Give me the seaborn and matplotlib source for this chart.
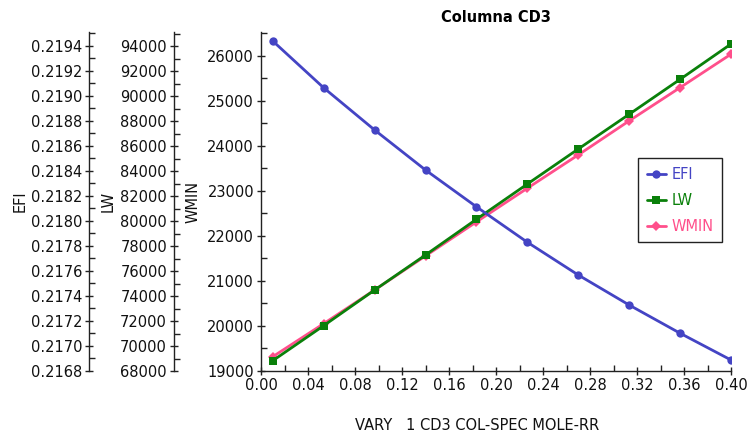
import matplotlib
matplotlib.use("Agg")
import matplotlib.pyplot as plt
import pandas as pd
import seaborn as sns
from matplotlib.ticker import MultipleLocator, FormatStrFormatter

# Sensitivity results for column CD3: reflux ratio sweep
rr = [0.01, 0.0533, 0.0967, 0.14, 0.1833, 0.2267, 0.27, 0.3133, 0.3567, 0.40]
efi = [0.21944, 0.219066, 0.218728, 0.218408, 0.218114,
       0.21783, 0.217568, 0.217328, 0.217102, 0.216888]
lw = [68824, 71624, 74480, 77280, 80136, 82960, 85760, 88536, 91336, 94160]
wmin = [19318, 20051, 20800, 21556, 22311, 23060, 23800, 24556, 25296, 26038]

series_names = ["EFI", "LW", "WMIN"]
colors = {"EFI": "#4444C4", "LW": "#0A800A", "WMIN": "#FF4F8B"}
markers = {"EFI": "o", "LW": "s", "WMIN": "D"}
msizes = {"EFI": 6, "LW": 5.5, "WMIN": 5}

df = pd.DataFrame({"RR": rr, "EFI": efi, "LW": lw, "WMIN": wmin})

sns.set_theme(style="white")
plt.rcParams["font.family"] = ["DejaVu Sans"]
plt.rcParams["font.size"] = 10.5

W, H = 749, 438
fig = plt.figure(figsize=(W / 100, H / 100), dpi=100)
left, right, top, bottom = 261, 731, 32, 371
ax = fig.add_axes([left / W, 1 - bottom / H, (right - left) / W, (bottom - top) / H])
ax_lw = ax.twinx()
ax_efi = ax.twinx()

axis_w = right - left
for a, off in ((ax_lw, 87), (ax_efi, 172)):
    a.yaxis.tick_left()
    a.yaxis.set_label_position("left")
    a.spines["left"].set_position(("axes", -off / axis_w))
    for s in ("right", "top", "bottom"):
        a.spines[s].set_visible(False)
    a.grid(False)

for s in ("right", "top"):
    ax.spines[s].set_visible(False)
ax.grid(False)

targets = {"EFI": ax_efi, "LW": ax_lw, "WMIN": ax}
for name in series_names:
    sns.lineplot(data=df, x="RR", y=name, ax=targets[name], color=colors[name],
                 marker=markers[name], markersize=msizes[name], markeredgewidth=0,
                 linewidth=2, legend=False)

# axis ranges and ticks
ax.set_xlim(0, 0.40)
ax.set_ylim(19000, 26530)
ax.xaxis.set_major_locator(MultipleLocator(0.04))
ax.xaxis.set_minor_locator(MultipleLocator(0.02))
ax.xaxis.set_major_formatter(FormatStrFormatter("%.2f"))
ax.yaxis.set_major_locator(MultipleLocator(1000))
ax.yaxis.set_minor_locator(MultipleLocator(500))

ax_lw.set_ylim(68000, 95120)
ax_lw.yaxis.set_major_locator(MultipleLocator(2000))
ax_lw.yaxis.set_minor_locator(MultipleLocator(1000))

ax_efi.set_ylim(0.2168, 0.219512)
ax_efi.yaxis.set_major_locator(MultipleLocator(0.0002))
ax_efi.yaxis.set_minor_locator(MultipleLocator(0.0001))
ax_efi.yaxis.set_major_formatter(FormatStrFormatter("%.4f"))

for a in (ax, ax_lw, ax_efi):
    for s in a.spines.values():
        s.set_color("#222222")
        s.set_linewidth(1.0)
    a.tick_params(which="major", direction="inout", length=6, width=1,
                  color="#222222", labelsize=10.5, labelcolor="#111111", pad=2)
    a.tick_params(which="minor", direction="in", length=4, width=1, color="#222222")
    a.tick_params(axis="y", which="both", left=True, right=False)
ax.tick_params(axis="x", which="both", bottom=True, top=False)

ax.set_xlabel("VARY   1 CD3 COL-SPEC MOLE-RR", fontsize=10.5, color="#111111")
ax.xaxis.set_label_coords((477 - left) / axis_w, -(425 - bottom) / (bottom - top))
ax.xaxis.label.set_va("center")
ax.set_ylabel("WMIN", fontsize=10.5, labelpad=5, color="#111111")
ax_lw.set_ylabel("LW", fontsize=10.5, labelpad=3, color="#111111")
ax_efi.set_ylabel("EFI", fontsize=10.5, labelpad=2, color="#111111")
ax.set_title("Columna CD3", fontweight="bold", fontsize=10.5, pad=7, color="black")

handles = [targets[n].lines[0] for n in series_names]
leg = ax_efi.legend(handles, series_names, loc="upper left",
                    bbox_to_anchor=(638 / W, 1 - 158 / H), bbox_transform=fig.transFigure,
                    frameon=True, fancybox=False, framealpha=1, edgecolor="#222222",
                    fontsize=10.5, handlelength=1.3, handletextpad=0.4,
                    labelspacing=0.75, borderpad=0.6, borderaxespad=0)
leg.get_frame().set_linewidth(1.0)
for t, n in zip(leg.get_texts(), series_names):
    t.set_color(colors[n])

fig.savefig("out.png", dpi=100)
